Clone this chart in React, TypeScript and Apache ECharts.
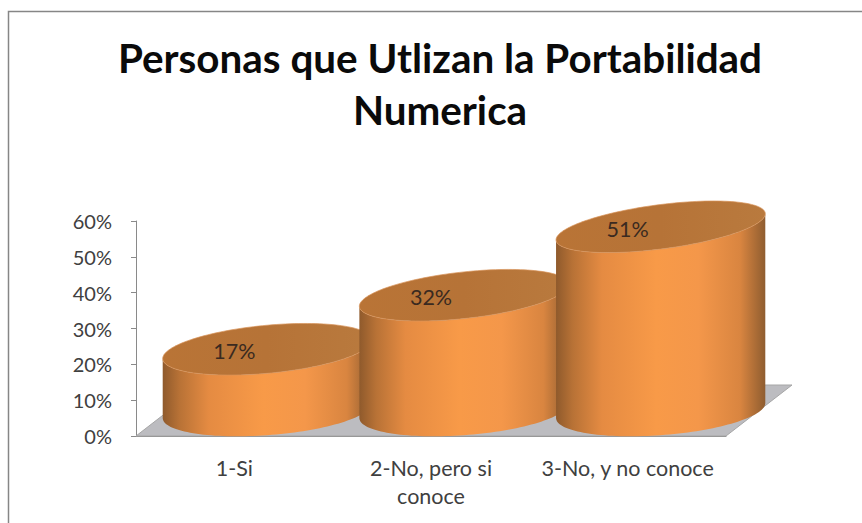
import React, { useEffect, useRef } from "react";
import * as echarts from "echarts";

const titleText = "Personas que Utlizan la Portabilidad\nNumerica";
const categories = ["1-Si", "2-No, pero si\nconoce", "3-No, y no conoce"];
const values = [17, 32, 51];
const FONT = "Lato, Carlito, sans-serif";

const DEPTH_X = 66;
const DEPTH_Y = 51;
const BASE_RISE = 18;
const HEIGHT_FACTOR = 0.975;
const WIDTH_RATIO = 0.532;
const BASE_TILT = 7.5;
const TILT_PER_PX = 0.031;
const HALF_HEIGHT = 25.8;

function renderFloor(params: any) {
  const c = params.coordSys;
  const b = c.y + c.height;
  return {
    type: "polygon",
    silent: true,
    shape: {
      points: [
        [c.x, b],
        [c.x + c.width, b],
        [c.x + c.width + DEPTH_X, b - DEPTH_Y],
        [c.x + DEPTH_X, b - DEPTH_Y],
      ],
    },
    style: { fill: "#bcbcc0", stroke: "#a6a6a6", lineWidth: 1 },
  };
}

function renderCylinder(params: any, api: any) {
  const idx = api.value(0);
  const val = api.value(1);
  const [x0, y0] = api.coord([idx, 0]);
  const [, yV] = api.coord([idx, val]);
  const band = api.size([1, 0])[0];
  const a = band * WIDTH_RATIO;
  const cx = x0 + DEPTH_X / 2;
  const leftBaseY = y0 - BASE_RISE;
  const h = (y0 - yV) * HEIGHT_FACTOR;
  const topTilt = BASE_TILT + h * TILT_PER_PX;
  const baseSq = Math.sqrt(HALF_HEIGHT * HALF_HEIGHT - BASE_TILT * BASE_TILT);
  const topSq = Math.sqrt(HALF_HEIGHT * HALF_HEIGHT - topTilt * topTilt);
  const cyBase = leftBaseY - BASE_TILT;
  const cyTop = leftBaseY - h - topTilt;

  const pt = (cy: number, tilt: number, sq: number, t: number) => [
    cx + a * Math.cos(t),
    cy - tilt * Math.cos(t) + sq * Math.sin(t),
  ];
  const N = 72;
  const lower = (cy: number, tilt: number, sq: number) => {
    const p: number[][] = [];
    for (let i = 0; i <= N; i++) p.push(pt(cy, tilt, sq, Math.PI - (Math.PI * i) / N));
    return p;
  };
  const full = (cy: number, tilt: number, sq: number) => {
    const p: number[][] = [];
    for (let i = 0; i < N * 2; i++) p.push(pt(cy, tilt, sq, (Math.PI * i) / N));
    return p;
  };
  const body = [
    ...lower(cyBase, BASE_TILT, baseSq),
    ...lower(cyTop, topTilt, topSq).reverse(),
  ];

  return {
    type: "group",
    silent: true,
    children: [
      {
        type: "polygon",
        shape: { points: body },
        style: {
          fill: new echarts.graphic.LinearGradient(0, 0, 1, 0, [
            { offset: 0, color: "#8f5a2c" },
            { offset: 0.08, color: "#b87236" },
            { offset: 0.22, color: "#e58b42" },
            { offset: 0.48, color: "#f89a48" },
            { offset: 0.68, color: "#f4974a" },
            { offset: 0.88, color: "#d98540" },
            { offset: 1, color: "#8f5d30" },
          ]),
        },
      },
      {
        type: "polygon",
        shape: { points: full(cyTop, topTilt, topSq) },
        style: {
          fill: new echarts.graphic.LinearGradient(0, 0, 1, 0, [
            { offset: 0, color: "#b97436" },
            { offset: 0.5, color: "#b67337" },
            { offset: 1, color: "#b97a3e" },
          ]),
          stroke: "#d8935a",
          lineWidth: 0.7,
        },
      },
      {
        type: "text",
        style: {
          x: x0,
          y: yV - 24.5,
          text: val + "%",
          fill: "#3a2a20",
          font: "21.5px " + FONT,
          textAlign: "center",
          textVerticalAlign: "middle",
        },
      },
    ],
  };
}

export default function App() {
  const ref = useRef<HTMLDivElement>(null);
  useEffect(() => {
    const chart = echarts.init(ref.current!, undefined, { renderer: "svg" });
    chart.setOption({
      animation: false,
      backgroundColor: "#ffffff",
      title: {
        text: titleText,
        left: 435,
        top: 26,
        textAlign: "center",
        textStyle: {
          fontFamily: FONT,
          fontWeight: "bold",
          fontSize: 40.4,
          lineHeight: 52,
          color: "#0a0a0a",
        },
      },
      graphic: [
        {
          type: "rect",
          silent: true,
          z: -1,
          shape: { x: 8.5, y: 11.5, width: 900, height: 600 },
          style: { fill: "none", stroke: "#868686", lineWidth: 1.5 },
        },
      ],
      grid: { left: 136, right: 136, top: 221, bottom: 87 },
      xAxis: {
        type: "category",
        data: categories,
        axisLine: { show: true, lineStyle: { color: "#8a8a8a", width: 1 } },
        axisTick: { show: false },
        axisLabel: {
          color: "#404040",
          fontFamily: FONT,
          fontSize: 21.5,
          lineHeight: 28,
          margin: 18,
          interval: 0,
        },
      },
      yAxis: {
        type: "value",
        min: 0,
        max: 60,
        interval: 10,
        axisLine: { show: true, lineStyle: { color: "#8a8a8a", width: 1 } },
        axisTick: { show: true, length: 5, lineStyle: { color: "#8a8a8a" } },
        splitLine: { show: false },
        axisLabel: {
          formatter: "{value}%",
          color: "#404040",
          fontFamily: FONT,
          fontSize: 20,
          margin: 24,
        },
      },
      series: [
        {
          type: "custom",
          coordinateSystem: "cartesian2d",
          clip: false,
          z: 1,
          data: [[0, 0]],
          renderItem: renderFloor,
        },
        {
          type: "custom",
          coordinateSystem: "cartesian2d",
          clip: false,
          z: 3,
          encode: { x: 0, y: 1 },
          data: values.map((v, i) => [i, v]),
          renderItem: renderCylinder,
        },
      ],
    });
    return () => chart.dispose();
  }, []);
  return (
    <div
      ref={ref}
      style={{ position: "fixed", left: 0, top: 0, width: 862, height: 523 }}
    />
  );
}
